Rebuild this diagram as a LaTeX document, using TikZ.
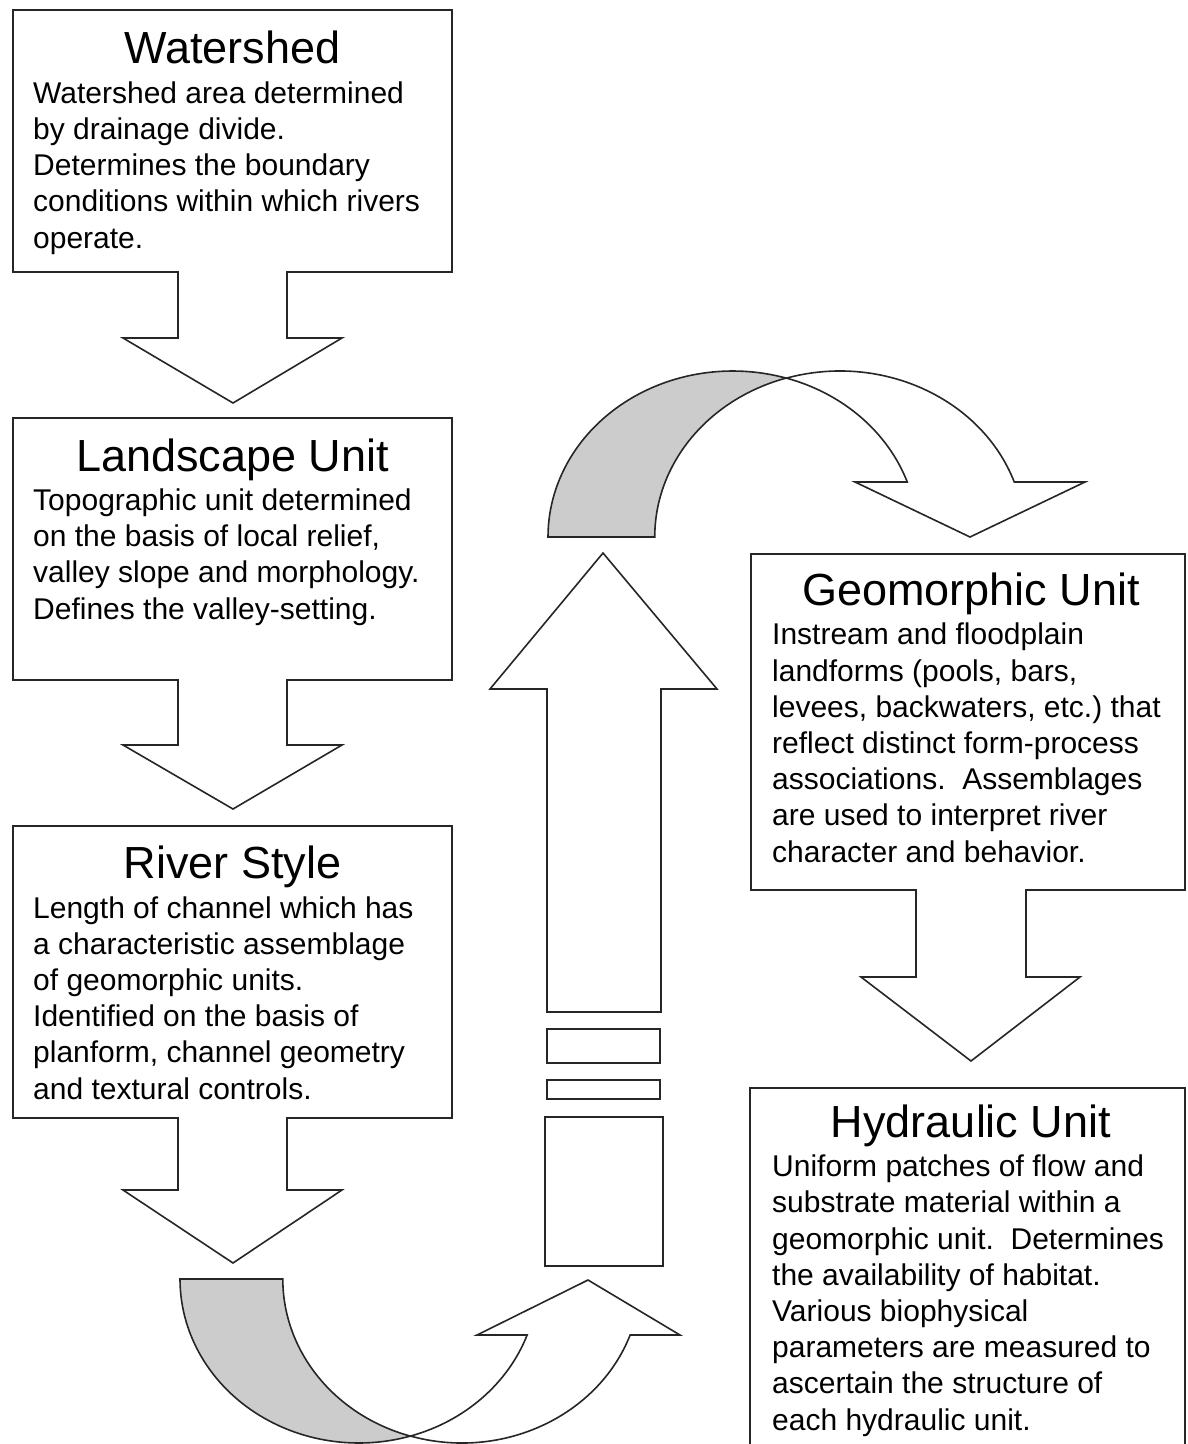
\documentclass[tikz,border=0pt]{standalone}
\usepackage{fontspec}
\setmainfont{Liberation Sans}
\frenchspacing
\begin{document}
\begin{tikzpicture}[x=1pt,y=1pt,
  outline/.style={draw=black!85,line width=1.6pt,line join=miter,fill=white},
  ribbon/.style={draw=black!85,line width=1.6pt,fill=black!20},
  boxtitle/.style={anchor=base,inner sep=0pt,font=\fontsize{45}{50}\selectfont},
  % multi-line bodies are placed by the baseline of their last line
  boxbody/.style={anchor=base west,inner sep=0pt,align=left,font=\fontsize{30}{36.2}\selectfont}]
\useasboundingbox (0,0) rectangle (1188,-1444);

% ---- left column: boxes joined to their block arrows ----
\draw[outline] (13,-10) -- (452,-10) -- (452,-272) -- (287,-272) -- (287,-338) -- (342,-338)
  -- (233,-403) -- (123,-338) -- (178,-338) -- (178,-272) -- (13,-272) -- cycle;
\draw[outline] (13,-418) -- (452,-418) -- (452,-680) -- (287,-680) -- (287,-745) -- (342,-745)
  -- (233,-809) -- (123,-745) -- (178,-745) -- (178,-680) -- (13,-680) -- cycle;
\draw[outline] (13,-826) -- (452,-826) -- (452,-1118) -- (287,-1118) -- (287,-1190) -- (342,-1190)
  -- (233,-1263) -- (123,-1190) -- (178,-1190) -- (178,-1118) -- (13,-1118) -- cycle;

% ---- right column ----
\draw[outline] (751,-554) -- (1185,-554) -- (1185,-890) -- (1026,-890) -- (1026,-977) -- (1080,-977)
  -- (971,-1061) -- (861,-977) -- (916,-977) -- (916,-890) -- (751,-890) -- cycle;
\draw[outline] (750,-1444) -- (750,-1088) -- (1185,-1088) -- (1185,-1444);

% ---- upward block arrow with broken shaft ----
\draw[outline] (547,-1012) -- (547,-689) -- (490,-689) -- (603,-553) -- (717,-689)
  -- (661,-689) -- (661,-1012) -- cycle;
\draw[outline] (547,-1029) rectangle (660,-1063);
\draw[outline] (547,-1080) rectangle (660,-1099);
\draw[outline] (545,-1117) rectangle (663,-1266);

% ---- curved arrow over the top ----
\draw[ribbon] (548,-537) arc[start angle=180,end angle=73.2,x radius=184.7,y radius=166]
  arc[start angle=106.8,end angle=180,x radius=184.7,y radius=166] -- cycle;
\draw[outline] ({840+184.7*cos(106.8)},{-537+166*sin(106.8)})
  arc[start angle=106.8,end angle=19.35,x radius=184.7,y radius=166]
  -- (1085,-482) -- (970,-537) -- (855,-482) -- ({733+184.7*cos(19.35)},-482)
  arc[start angle=19.35,end angle=73.2,x radius=184.7,y radius=166] -- cycle;

% ---- curved arrow along the bottom ----
\draw[ribbon] (180,-1279) arc[start angle=180,end angle=286.7,x radius=178.9,y radius=164]
  arc[start angle=253.3,end angle=180,x radius=178.9,y radius=164] -- cycle;
\draw[outline] ({462+178.9*cos(253.3)},{-1279+164*sin(253.3)})
  arc[start angle=253.3,end angle=340.03,x radius=178.9,y radius=164]
  -- (680,-1335) -- (588,-1280) -- (477,-1335) -- ({359+178.9*cos(340.03)},-1335)
  arc[start angle=340.03,end angle=286.7,x radius=178.9,y radius=164] -- cycle;

% ---- texts ----
\node[boxtitle] (wsT) at (232.5,-63) {Watershed};
\node[boxbody] (wsB) at (33,-248) {Watershed area determined\\by drainage divide.\\Determines the boundary\\conditions within which rivers\\operate.};

\node[boxtitle] (luT) at (232.5,-471) {Landscape Unit};
\node[boxbody] (luB) at (33,-619) {Topographic unit determined\\on the basis of local relief,\\valley slope and morphology.\\Defines the valley-setting.};

\node[boxtitle] (rsT) at (232.5,-878) {River Style};
\node[boxbody] (rsB) at (33,-1099) {Length of channel which has\\a characteristic assemblage\\of geomorphic units.\\Identified on the basis of\\planform, channel geometry\\and textural controls.};

\node[boxtitle] (guT) at (971,-605) {Geomorphic Unit};
\node[boxbody] (guB) at (772,-862) {Instream and floodplain\\landforms (pools, bars,\\levees, backwaters, etc.) that\\reflect distinct form-process\\associations.\ \ Assemblages\\are used to interpret river\\character and behavior.};

\node[boxtitle] (huT) at (971,-1137) {Hydraulic Unit};
\node[boxbody] (huB) at (772,-1430) {Uniform patches of flow and\\substrate material within a\\geomorphic unit.\ \ Determines\\the availability of habitat.\\Various biophysical\\parameters are measured to\\ascertain the structure of\\each hydraulic unit.};
\end{tikzpicture}
\end{document}
